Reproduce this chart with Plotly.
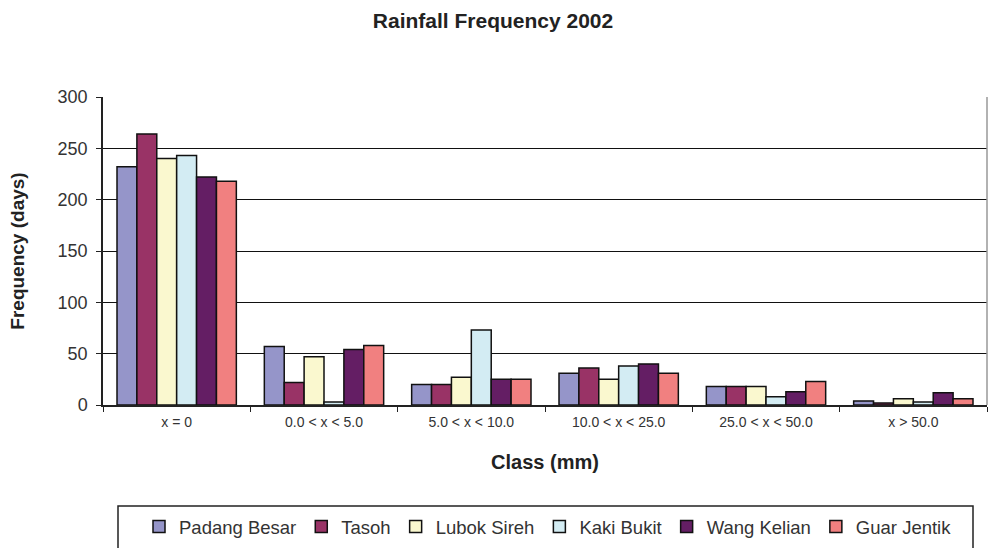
import plotly.graph_objects as go

categories = ["x = 0", "0.0 < x < 5.0", "5.0 < x < 10.0", "10.0 < x < 25.0", "25.0 < x < 50.0", "x > 50.0"]
padang_besar = [232, 57, 20, 31, 18, 4]
tasoh = [264, 22, 20, 36, 18, 2]
lubok_sireh = [240, 47, 27, 25, 18, 6]
kaki_bukit = [243, 3, 73, 38, 8, 3]
wang_kelian = [222, 54, 25, 40, 13, 12]
guar_jentik = [218, 58, 25, 31, 23, 6]

series = [
    ("Padang Besar", padang_besar, "#9595C9"),
    ("Tasoh", tasoh, "#993366"),
    ("Lubok Sireh", lubok_sireh, "#FAF8CF"),
    ("Kaki Bukit", kaki_bukit, "#D3ECF3"),
    ("Wang Kelian", wang_kelian, "#641E64"),
    ("Guar Jentik", guar_jentik, "#F18080"),
]

fig = go.Figure()
for name, vals, col in series:
    fig.add_trace(go.Bar(
        x=categories, y=vals, name=name,
        marker=dict(color=col, line=dict(color="#111111", width=1.5)),
    ))

font_family = "Liberation Sans, Arial, sans-serif"

L, R, T, B = 103, 987, 97, 405
PW, PH = R - L, B - T

fig.update_layout(
    width=988, height=548,
    paper_bgcolor="white", plot_bgcolor="white",
    margin=dict(l=L, r=988 - R, t=T, b=548 - B, autoexpand=False),
    barmode="group", bargap=0.19, bargroupgap=0,
    font=dict(family=font_family, color="#222222"),
    title=dict(text="<b>Rainfall Frequency 2002</b>", x=493 / 988, xref="container",
               xanchor="center",
               y=1 - 21 / 548, yref="container", yanchor="middle",
               font=dict(size=21, color="#222222")),
    xaxis=dict(
        showline=True, linecolor="#222222", linewidth=1.5,
        ticks="outside", tickson="boundaries", ticklen=5, tickcolor="#222222",
        ticklabelstandoff=3,
        tickfont=dict(size=14, color="#333333"), showgrid=False,
        title=dict(text="<b>Class (mm)</b>", font=dict(size=20, color="#222222"), standoff=26),
    ),
    yaxis=dict(
        range=[0, 300], dtick=50, showline=True, linecolor="#222222", linewidth=1.5,
        ticks="outside", ticklen=5, tickcolor="#222222", ticklabelstandoff=5,
        tickfont=dict(size=18, color="#333333"), showgrid=True, gridcolor="#111111", gridwidth=1.2,
        zeroline=False,
        title=dict(text="<b>Frequency (days)</b>", font=dict(size=19, color="#222222"), standoff=28),
    ),
    legend=dict(
        orientation="h", x=(548 - L) / PW, xanchor="center",
        y=(B - 527) / PH, yanchor="middle",
        font=dict(size=18.5, color="#333333"), itemwidth=30, bgcolor="rgba(0,0,0,0)",
        traceorder="normal",
    ),
    shapes=[
        dict(type="rect", xref="paper", yref="paper",
             x0=(118 - L) / PW, x1=(973 - L) / PW,
             y0=(B - 570) / PH, y1=(B - 506) / PH,
             line=dict(color="#222222", width=1.5), fillcolor="rgba(0,0,0,0)"),
        dict(type="line", xref="paper", yref="paper", x0=1, x1=1, y0=0, y1=1,
             line=dict(color="#999999", width=1.5)),
    ],
)

fig.write_html("out.html", config={"displayModeBar": False},
               post_script="document.body.style.margin='0px';document.body.style.overflow='hidden';")
